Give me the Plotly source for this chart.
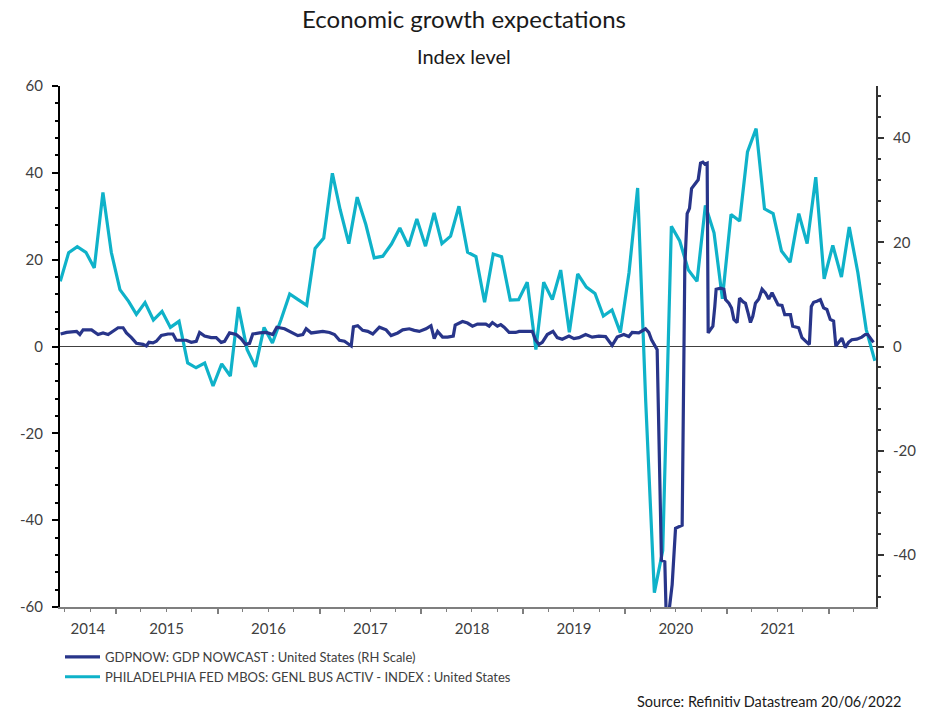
import numpy as np
import pandas as pd
import plotly.graph_objects as go

# ---------------- data ----------------
philly_first_month = "2014-06"
philly_values = [
    15.0, 21.6, 23.0, 21.7, 18.1, 35.5, 21.7,             # 2014 Jun-Dec
    13.1, 10.4, 7.4, 10.1, 6.1, 8.1, 4.4, 5.8, -3.8, -4.9, -3.8, -9.1,   # 2015
    -4.0, -6.8, 9.1, -0.7, -4.7, 4.4, 0.8, 6.2, 12.1, 10.8, 9.5, 22.6,   # 2016
    25.0, 39.9, 31.5, 23.7, 34.4, 28.1, 20.4, 20.8, 23.6, 27.3, 23.1, 29.4,  # 2017
    23.1, 30.8, 23.7, 25.4, 32.3, 21.7, 20.7, 10.2, 21.3, 20.7, 10.7, 10.8,  # 2018
    14.8, -0.7, 14.8, 10.8, 17.6, 3.3, 16.7, 13.7, 12.2, 7.0, 8.4, 3.2,      # 2019
    17.0, 36.5, -12.7, -56.7, -47.0, 27.7, 24.3, 17.6, 15.0, 32.5, 26.2, 11.0,  # 2020
    30.4, 28.9, 44.8, 50.2, 31.7, 30.6, 22.0, 19.4, 30.6, 23.7, 39.0, 15.6,  # 2021
    23.3, 16.0, 27.5, 17.0, 3.9, -3.3,                                       # 2022 Jan-Jun
]

gdp_years = [
    2014.458, 2014.517, 2014.615, 2014.647, 2014.679, 2014.762, 2014.826, 2014.875,
    2014.925, 2014.974, 2015.023, 2015.072, 2015.105, 2015.154, 2015.203, 2015.268,
    2015.301, 2015.326, 2015.366, 2015.399, 2015.448, 2015.513, 2015.562, 2015.595,
    2015.693, 2015.742, 2015.791, 2015.824, 2015.873, 2015.938, 2015.987, 2016.036,
    2016.069, 2016.118, 2016.183, 2016.232, 2016.275, 2016.314, 2016.346, 2016.412,
    2016.477, 2016.542, 2016.581, 2016.657, 2016.722, 2016.787, 2016.836, 2016.869,
    2016.919, 2016.983, 2017.032, 2017.098, 2017.147, 2017.196, 2017.245, 2017.311,
    2017.333, 2017.375, 2017.424, 2017.474, 2017.523, 2017.588, 2017.654, 2017.703,
    2017.768, 2017.817, 2017.882, 2017.931, 2017.980, 2018.046, 2018.095, 2018.127,
    2018.160, 2018.209, 2018.258, 2018.314, 2018.333, 2018.405, 2018.454, 2018.503,
    2018.552, 2018.634, 2018.667, 2018.699, 2018.748, 2018.781, 2018.814, 2018.863,
    2018.928, 2018.961, 2019.026, 2019.091, 2019.124, 2019.157, 2019.189, 2019.238,
    2019.294, 2019.336, 2019.385, 2019.451, 2019.500, 2019.549, 2019.615, 2019.679,
    2019.745, 2019.811, 2019.875, 2019.925, 2019.990, 2020.039, 2020.072, 2020.137,
    2020.203, 2020.235, 2020.262, 2020.294, 2020.317, 2020.359, 2020.392, 2020.405,
    2020.431, 2020.464, 2020.497, 2020.562, 2020.588, 2020.611, 2020.634, 2020.654,
    2020.693, 2020.719, 2020.742, 2020.765, 2020.784, 2020.807, 2020.817, 2020.840,
    2020.863, 2020.882, 2020.895, 2020.938, 2020.971, 2020.987, 2021.020, 2021.046,
    2021.069, 2021.101, 2021.125, 2021.157, 2021.183, 2021.209, 2021.232, 2021.255,
    2021.281, 2021.314, 2021.346, 2021.379, 2021.412, 2021.444, 2021.477, 2021.503,
    2021.542, 2021.569, 2021.625, 2021.647, 2021.706, 2021.738, 2021.787, 2021.811,
    2021.830, 2021.853, 2021.885, 2021.919, 2021.951, 2021.983, 2022.016, 2022.049,
    2022.071, 2022.098, 2022.130, 2022.164, 2022.196, 2022.228, 2022.277, 2022.326,
    2022.360, 2022.385, 2022.409, 2022.441,
]
gdp_values = [
    2.4, 2.7, 2.9, 2.3, 3.2, 3.2, 2.3, 2.6,
    2.3, 2.9, 3.6, 3.6, 2.6, 1.7, 0.6, 0.4,
    0.1, 0.8, 0.7, 1.0, 2.1, 2.4, 2.4, 1.2,
    1.2, 0.8, 1.0, 2.7, 2.0, 1.7, 1.7, 0.8,
    1.0, 2.6, 2.3, 1.5, 0.4, 0.6, 2.4, 2.6,
    2.7, 2.3, 3.7, 3.4, 2.7, 2.1, 2.3, 3.4,
    2.6, 2.7, 2.9, 2.7, 2.3, 1.2, 1.0, 0.1,
    3.8, 4.0, 3.1, 2.9, 2.4, 3.7, 3.2, 2.1,
    2.6, 3.2, 3.4, 3.1, 2.9, 3.4, 4.0, 1.5,
    2.9, 1.8, 1.8, 2.0, 4.1, 4.8, 4.5, 3.9,
    4.3, 4.3, 3.9, 4.6, 3.9, 4.2, 3.7, 2.7,
    2.7, 2.9, 2.9, 2.9, 1.2, 0.4, 0.8, 2.3,
    2.9, 1.7, 1.4, 2.0, 1.5, 1.7, 2.3, 1.8,
    2.0, 1.9, 0.2, 1.8, 2.3, 1.9, 2.7, 2.6,
    3.4, 2.7, 1.3, 0.1, -0.6, -41.0, -41.3, -51.2,
    -51.2, -45.7, -34.9, -34.3, 15.3, 25.5, 26.5, 30.3,
    31.2, 32.0, 35.2, 35.4, 35.0, 35.2, 2.6, 3.2,
    3.9, 7.7, 11.0, 11.2, 11.0, 9.0, 8.3, 7.4,
    5.2, 4.6, 9.3, 8.6, 8.3, 6.4, 4.6, 5.8,
    8.3, 9.1, 11.0, 10.3, 9.1, 10.3, 9.1, 8.0,
    7.9, 6.1, 6.1, 3.9, 3.6, 1.7, 0.8, 0.4,
    7.7, 8.5, 8.7, 9.0, 7.4, 7.1, 5.2, 4.9,
    0.1, 0.8, 1.6, -0.2, 0.8, 1.3, 1.4, 1.8,
    2.3, 2.3, 1.7, 0.8,
]

year_labels = ["2014", "2015", "2016", "2017", "2018", "2019", "2020", "2021"]
left_ticks = [-60, -40, -20, 0, 20, 40, 60]
right_ticks = [-40, -20, 0, 20, 40]
x_start, x_end = pd.Timestamp("2014-06-15"), pd.Timestamp("2022-06-20")

GDP_NAME = "GDPNOW: GDP NOWCAST : United States (RH Scale)"
PHL_NAME = "PHILADELPHIA FED MBOS: GENL BUS ACTIV - INDEX : United States"

# ---------------- helpers ----------------
def dec_to_date(y):
    yr = int(np.floor(y))
    a = pd.Timestamp(year=yr, month=1, day=1)
    b = pd.Timestamp(year=yr + 1, month=1, day=1)
    return a + (b - a) * (y - yr)

gdp_dates = [dec_to_date(v) for v in gdp_years]
philly_dates = pd.date_range(philly_first_month + "-01", periods=len(philly_values), freq="MS") + pd.Timedelta(days=15)

label_pos = []
for yl in year_labels:
    a = max(pd.Timestamp(f"{yl}-01-01"), x_start)
    b = min(pd.Timestamp(f"{int(yl)+1}-01-01"), x_end)
    label_pos.append(a + (b - a) / 2)
year_ticks = [pd.Timestamp(f"{y}-01-01") for y in range(2015, 2023)]

NAVY = "#28358A"
CYAN = "#0FB2C9"
TXT = "#404040"
FONT = "Lato"

fig = go.Figure()
fig.add_trace(go.Scatter(
    x=philly_dates, y=philly_values, name=PHL_NAME, mode="lines",
    line=dict(color=CYAN, width=3.2), xaxis="x", yaxis="y", legendrank=2,
))
fig.add_trace(go.Scatter(
    x=gdp_dates, y=gdp_values, name=GDP_NAME, mode="lines",
    line=dict(color=NAVY, width=3.2), xaxis="x2", yaxis="y2", legendrank=1,
))

fig.update_layout(
    width=930, height=711,
    margin=dict(l=60, r=54, t=86, b=104),
    paper_bgcolor="white", plot_bgcolor="white",
    font=dict(family=FONT, color=TXT),
    showlegend=True,
    legend=dict(
        x=0.0, y=-0.067, xanchor="left", yanchor="top",
        font=dict(family=FONT, size=13, color=TXT),
        bgcolor="rgba(0,0,0,0)", tracegroupgap=0, itemwidth=35,
        traceorder="normal",
    ),
    xaxis=dict(
        type="date", range=[x_start, x_end],
        showgrid=False, zeroline=False,
        showline=True, linecolor="#7f7f7f", linewidth=1.5,
        tickmode="array", tickvals=year_ticks, showticklabels=False,
        ticks="outside", ticklen=5, tickcolor="#7f7f7f", tickwidth=1.5,
        minor=dict(dtick="M3", tick0="2015-01-01", ticks="outside", ticklen=3,
                   tickcolor="#7f7f7f", tickwidth=1.2, showgrid=False),
    ),
    xaxis2=dict(
        type="date", range=[x_start, x_end], overlaying="x", side="bottom",
        showgrid=False, zeroline=False, showline=False,
        tickmode="array", tickvals=label_pos, ticktext=year_labels,
        ticks="outside", ticklen=8, tickcolor="rgba(0,0,0,0)",
        tickfont=dict(family=FONT, size=15, color=TXT),
    ),
    yaxis=dict(
        range=[-60, 60], tickmode="array", tickvals=left_ticks,
        ticktext=[str(v) for v in left_ticks],
        showgrid=False, zeroline=True, zerolinecolor="#404040", zerolinewidth=1,
        showline=True, linecolor="black", linewidth=2,
        ticks="outside", ticklen=6, tickcolor="black", tickwidth=2,
        ticklabelstandoff=6,
        minor=dict(dtick=4, tick0=0, ticks="outside", ticklen=3, tickcolor="black", tickwidth=2),
        tickfont=dict(family=FONT, size=15, color=TXT),
    ),
    yaxis2=dict(
        range=[-50, 50], overlaying="y", side="right", anchor="x",
        tickmode="array", tickvals=right_ticks, ticktext=[str(v) for v in right_ticks],
        showgrid=False, zeroline=False,
        showline=True, linecolor="#333333", linewidth=2,
        ticks="outside", ticklen=6, tickcolor="#333333", tickwidth=2,
        ticklabelstandoff=6,
        minor=dict(dtick=4, tick0=0, ticks="outside", ticklen=3, tickcolor="#333333", tickwidth=2),
        tickfont=dict(family=FONT, size=15, color=TXT),
    ),
    annotations=[
        dict(text="Economic growth expectations", xref="paper", yref="paper",
             x=0.4945, y=1.1305, xanchor="center", yanchor="middle", showarrow=False,
             font=dict(family=FONT, size=24, color="#1a1a1a")),
        dict(text="Index level", xref="paper", yref="paper",
             x=0.4945, y=1.0576, xanchor="center", yanchor="middle", showarrow=False,
             font=dict(family=FONT, size=20, color="#1a1a1a")),
        dict(text="Source: Refinitiv Datastream 20/06/2022", xref="paper", yref="paper",
             x=1.033, y=-0.181, xanchor="right", yanchor="middle", showarrow=False,
             font=dict(family=FONT, size=14.5, color="#1a1a1a")),
    ],
)

fig.write_html("out.html", config={"displayModeBar": False},
               post_script="document.body.style.margin='0px';")
